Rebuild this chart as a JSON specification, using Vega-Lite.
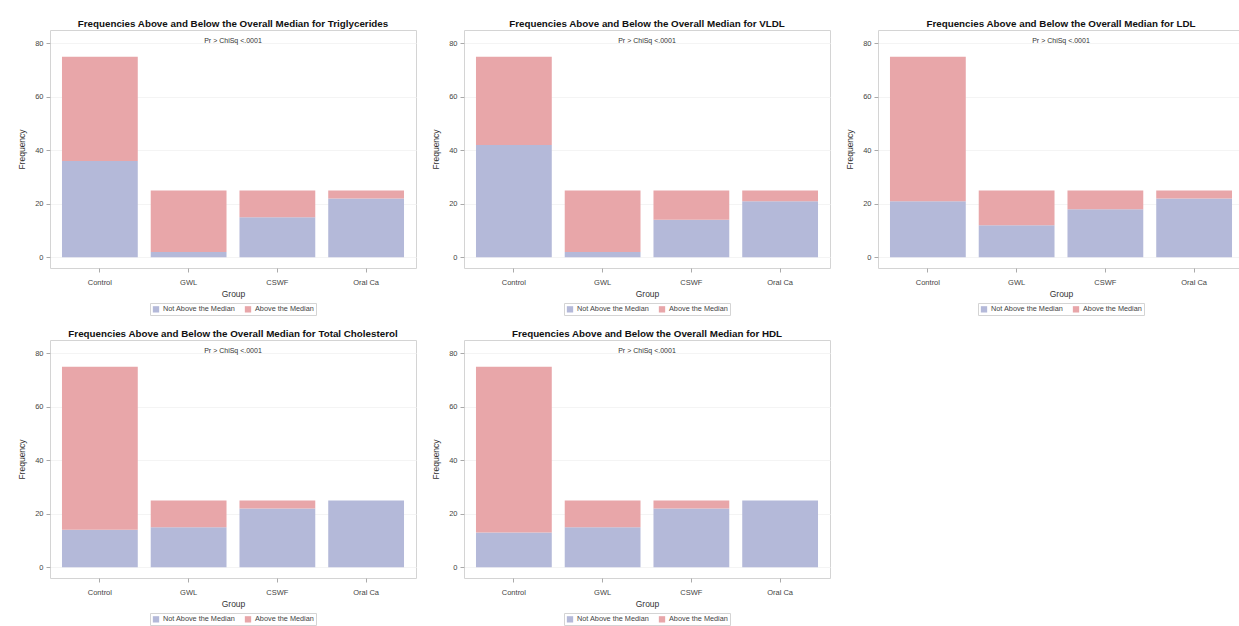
{
  "$schema": "https://vega.github.io/schema/vega-lite/v6.json",
  "background": "white",
  "padding": {"left": 17, "top": 18, "right": 0, "bottom": 0},
  "datasets": {
    "freq": [
      {"lipid": "Triglycerides", "group": "Control", "status": "Not Above the Median", "count": 36},
      {"lipid": "Triglycerides", "group": "Control", "status": "Above the Median", "count": 39},
      {"lipid": "Triglycerides", "group": "GWL", "status": "Not Above the Median", "count": 2},
      {"lipid": "Triglycerides", "group": "GWL", "status": "Above the Median", "count": 23},
      {"lipid": "Triglycerides", "group": "CSWF", "status": "Not Above the Median", "count": 15},
      {"lipid": "Triglycerides", "group": "CSWF", "status": "Above the Median", "count": 10},
      {"lipid": "Triglycerides", "group": "Oral Ca", "status": "Not Above the Median", "count": 22},
      {"lipid": "Triglycerides", "group": "Oral Ca", "status": "Above the Median", "count": 3},
      {"lipid": "VLDL", "group": "Control", "status": "Not Above the Median", "count": 42},
      {"lipid": "VLDL", "group": "Control", "status": "Above the Median", "count": 33},
      {"lipid": "VLDL", "group": "GWL", "status": "Not Above the Median", "count": 2},
      {"lipid": "VLDL", "group": "GWL", "status": "Above the Median", "count": 23},
      {"lipid": "VLDL", "group": "CSWF", "status": "Not Above the Median", "count": 14},
      {"lipid": "VLDL", "group": "CSWF", "status": "Above the Median", "count": 11},
      {"lipid": "VLDL", "group": "Oral Ca", "status": "Not Above the Median", "count": 21},
      {"lipid": "VLDL", "group": "Oral Ca", "status": "Above the Median", "count": 4},
      {"lipid": "LDL", "group": "Control", "status": "Not Above the Median", "count": 21},
      {"lipid": "LDL", "group": "Control", "status": "Above the Median", "count": 54},
      {"lipid": "LDL", "group": "GWL", "status": "Not Above the Median", "count": 12},
      {"lipid": "LDL", "group": "GWL", "status": "Above the Median", "count": 13},
      {"lipid": "LDL", "group": "CSWF", "status": "Not Above the Median", "count": 18},
      {"lipid": "LDL", "group": "CSWF", "status": "Above the Median", "count": 7},
      {"lipid": "LDL", "group": "Oral Ca", "status": "Not Above the Median", "count": 22},
      {"lipid": "LDL", "group": "Oral Ca", "status": "Above the Median", "count": 3},
      {"lipid": "Total Cholesterol", "group": "Control", "status": "Not Above the Median", "count": 14},
      {"lipid": "Total Cholesterol", "group": "Control", "status": "Above the Median", "count": 61},
      {"lipid": "Total Cholesterol", "group": "GWL", "status": "Not Above the Median", "count": 15},
      {"lipid": "Total Cholesterol", "group": "GWL", "status": "Above the Median", "count": 10},
      {"lipid": "Total Cholesterol", "group": "CSWF", "status": "Not Above the Median", "count": 22},
      {"lipid": "Total Cholesterol", "group": "CSWF", "status": "Above the Median", "count": 3},
      {"lipid": "Total Cholesterol", "group": "Oral Ca", "status": "Not Above the Median", "count": 25},
      {"lipid": "Total Cholesterol", "group": "Oral Ca", "status": "Above the Median", "count": 0},
      {"lipid": "HDL", "group": "Control", "status": "Not Above the Median", "count": 13},
      {"lipid": "HDL", "group": "Control", "status": "Above the Median", "count": 62},
      {"lipid": "HDL", "group": "GWL", "status": "Not Above the Median", "count": 15},
      {"lipid": "HDL", "group": "GWL", "status": "Above the Median", "count": 10},
      {"lipid": "HDL", "group": "CSWF", "status": "Not Above the Median", "count": 22},
      {"lipid": "HDL", "group": "CSWF", "status": "Above the Median", "count": 3},
      {"lipid": "HDL", "group": "Oral Ca", "status": "Not Above the Median", "count": 25},
      {"lipid": "HDL", "group": "Oral Ca", "status": "Above the Median", "count": 0}
    ]
  },
  "vconcat": [
    {
      "resolve": {"scale": {"color": "independent", "y": "independent", "x": "independent"}, "legend": {"color": "independent"}},
      "hconcat": [
        {
          "title": {"text": "Frequencies Above and Below the Overall Median for Triglycerides", "subtitle": "Pr > ChiSq  <.0001"},
          "width": 366, "height": 238,
          "data": {"name": "freq"},
          "transform": [{"filter": "datum.lipid === 'Triglycerides'"}],
          "mark": {"type": "bar"},
          "encoding": {
            "x": {"field": "group", "type": "nominal", "sort": ["Control", "GWL", "CSWF", "Oral Ca"], "title": "Group", "scale": {"paddingInner": 0.146, "paddingOuter": 0.135}},
            "y": {"field": "count", "type": "quantitative", "stack": "zero", "title": "Frequency", "scale": {"domain": [-4, 85], "nice": false, "zero": false}, "axis": {"values": [0, 20, 40, 60, 80]}},
            "color": {"field": "status", "type": "nominal", "title": null, "scale": {"domain": ["Not Above the Median", "Above the Median"], "range": ["#b4b9d9", "#e8a6a9"]}},
            "order": {"field": "status", "sort": "descending"}
          }
        },
        {
          "title": {"text": "Frequencies Above and Below the Overall Median for VLDL", "subtitle": "Pr > ChiSq  <.0001"},
          "width": 366, "height": 238,
          "data": {"name": "freq"},
          "transform": [{"filter": "datum.lipid === 'VLDL'"}],
          "mark": {"type": "bar"},
          "encoding": {
            "x": {"field": "group", "type": "nominal", "sort": ["Control", "GWL", "CSWF", "Oral Ca"], "title": "Group", "scale": {"paddingInner": 0.146, "paddingOuter": 0.135}},
            "y": {"field": "count", "type": "quantitative", "stack": "zero", "title": "Frequency", "scale": {"domain": [-4, 85], "nice": false, "zero": false}, "axis": {"values": [0, 20, 40, 60, 80]}},
            "color": {"field": "status", "type": "nominal", "title": null, "scale": {"domain": ["Not Above the Median", "Above the Median"], "range": ["#b4b9d9", "#e8a6a9"]}},
            "order": {"field": "status", "sort": "descending"}
          }
        },
        {
          "title": {"text": "Frequencies Above and Below the Overall Median for LDL", "subtitle": "Pr > ChiSq  <.0001"},
          "width": 366, "height": 238,
          "data": {"name": "freq"},
          "transform": [{"filter": "datum.lipid === 'LDL'"}],
          "mark": {"type": "bar"},
          "encoding": {
            "x": {"field": "group", "type": "nominal", "sort": ["Control", "GWL", "CSWF", "Oral Ca"], "title": "Group", "scale": {"paddingInner": 0.146, "paddingOuter": 0.135}},
            "y": {"field": "count", "type": "quantitative", "stack": "zero", "title": "Frequency", "scale": {"domain": [-4, 85], "nice": false, "zero": false}, "axis": {"values": [0, 20, 40, 60, 80]}},
            "color": {"field": "status", "type": "nominal", "title": null, "scale": {"domain": ["Not Above the Median", "Above the Median"], "range": ["#b4b9d9", "#e8a6a9"]}},
            "order": {"field": "status", "sort": "descending"}
          }
        }
      ]
    },
    {
      "resolve": {"scale": {"color": "independent", "y": "independent", "x": "independent"}, "legend": {"color": "independent"}},
      "hconcat": [
        {
          "title": {"text": "Frequencies Above and Below the Overall Median for Total Cholesterol", "subtitle": "Pr > ChiSq  <.0001"},
          "width": 366, "height": 238,
          "data": {"name": "freq"},
          "transform": [{"filter": "datum.lipid === 'Total Cholesterol'"}],
          "mark": {"type": "bar"},
          "encoding": {
            "x": {"field": "group", "type": "nominal", "sort": ["Control", "GWL", "CSWF", "Oral Ca"], "title": "Group", "scale": {"paddingInner": 0.146, "paddingOuter": 0.135}},
            "y": {"field": "count", "type": "quantitative", "stack": "zero", "title": "Frequency", "scale": {"domain": [-4, 85], "nice": false, "zero": false}, "axis": {"values": [0, 20, 40, 60, 80]}},
            "color": {"field": "status", "type": "nominal", "title": null, "scale": {"domain": ["Not Above the Median", "Above the Median"], "range": ["#b4b9d9", "#e8a6a9"]}},
            "order": {"field": "status", "sort": "descending"}
          }
        },
        {
          "title": {"text": "Frequencies Above and Below the Overall Median for HDL", "subtitle": "Pr > ChiSq  <.0001"},
          "width": 366, "height": 238,
          "data": {"name": "freq"},
          "transform": [{"filter": "datum.lipid === 'HDL'"}],
          "mark": {"type": "bar"},
          "encoding": {
            "x": {"field": "group", "type": "nominal", "sort": ["Control", "GWL", "CSWF", "Oral Ca"], "title": "Group", "scale": {"paddingInner": 0.146, "paddingOuter": 0.135}},
            "y": {"field": "count", "type": "quantitative", "stack": "zero", "title": "Frequency", "scale": {"domain": [-4, 85], "nice": false, "zero": false}, "axis": {"values": [0, 20, 40, 60, 80]}},
            "color": {"field": "status", "type": "nominal", "title": null, "scale": {"domain": ["Not Above the Median", "Above the Median"], "range": ["#b4b9d9", "#e8a6a9"]}},
            "order": {"field": "status", "sort": "descending"}
          }
        }
      ]
    }
  ],
  "spacing": 12,
  "resolve": {"scale": {"color": "independent", "y": "independent", "x": "independent"}, "legend": {"color": "independent"}},
  "config": {
    "font": "Liberation Sans",
    "concat": {"spacing": 14},
    "view": {"stroke": "#d4d4d4", "strokeWidth": 1},
    "title": {"fontSize": 9.8, "fontWeight": "bold", "color": "#111", "anchor": "middle", "offset": -14, "subtitleFontSize": 7, "subtitleColor": "#333", "subtitlePadding": 8},
    "axis": {"labelFontSize": 7.5, "labelColor": "#444", "titleFontSize": 8.5, "titleFontWeight": "normal", "titleColor": "#333", "tickColor": "#aaa", "tickSize": 4, "domain": false, "gridColor": "#f4f4f4"},
    "axisX": {"labelAngle": 0, "grid": false, "labelPadding": 6, "titlePadding": 4},
    "axisY": {"grid": true, "titlePadding": 8, "labelPadding": 3},
    "legend": {"orient": "bottom", "direction": "horizontal", "labelFontSize": 7.3, "labelColor": "#444", "symbolType": "square", "symbolSize": 40, "strokeColor": "#d4d4d4", "padding": 2, "offset": 5, "columnPadding": 8, "labelOffset": 3, "layout": {"bottom": {"anchor": "middle"}}}
  }
}
